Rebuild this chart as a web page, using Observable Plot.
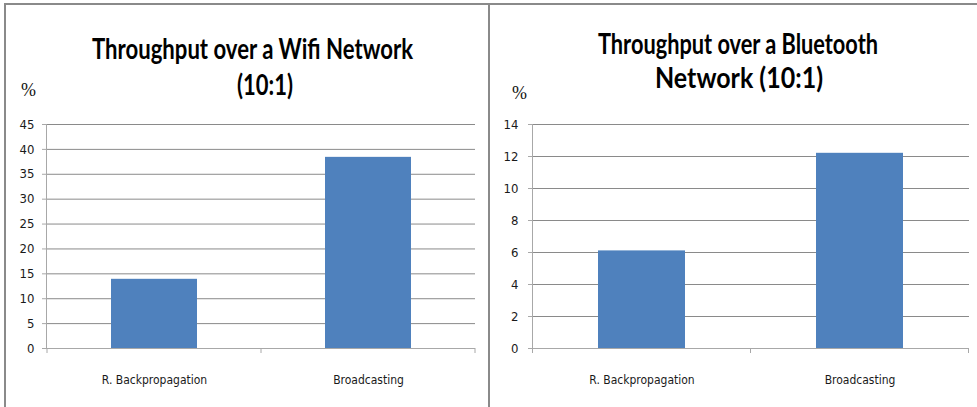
<!DOCTYPE html>
<html>
<head>
<meta charset="utf-8">
<script src="https://cdn.jsdelivr.net/npm/d3@7"></script>
<script src="https://cdn.jsdelivr.net/npm/@observablehq/plot@0.6"></script>
<style>
  body { margin: 0; background: #fff; }
  #page { position: relative; width: 977px; height: 407px; overflow: hidden; background: #fff; }
  #page > svg { position: absolute; top: 0; }
</style>
</head>
<body>
<div id="page"></div>
<script>
// Throughput comparison: two bar panels (Wifi vs Bluetooth), ratio 10:1
const categories = ["R. Backpropagation", "Broadcasting"];
const wifiValues = [13.9, 38.4];
const bluetoothValues = [6.1, 12.2];
const wifiTicks = [0, 5, 10, 15, 20, 25, 30, 35, 40, 45];
const bluetoothTicks = [0, 2, 4, 6, 8, 10, 12, 14];
const wifiTitle = ["Throughput over a Wifi Network", "(10:1)"];
const bluetoothTitle = ["Throughput over a Bluetooth", "Network (10:1)"];
const unitLabel = "%";

const FONT = "'Liberation Sans Narrow', 'DejaVu Sans Condensed', 'Liberation Sans', sans-serif";
const TITLE_FONT = "Lato, 'DejaVu Sans Condensed', sans-serif";
const BAR = "#4F81BD";
const GRID = "#8a8a8a";
const AXIS = "#a8a8a8";
const H = 407;

const page = document.getElementById("page");

function panel({values, ticks, left, width, marginLeft, marginRight, tickPadding}) {
  const rows = categories.map((c, i) => ({category: c, value: values[i]}));
  const fig = Plot.plot({
    width, height: H,
    marginLeft, marginRight, marginTop: 124, marginBottom: 59,
    style: {fontFamily: FONT, fontSize: "13px", color: "#1a1a1a", background: "transparent", overflow: "visible"},
    x: {domain: categories, paddingInner: 0.6, paddingOuter: 0.3, align: 0.5, label: null, axis: null},
    y: {domain: [0, ticks[ticks.length - 1]], label: null, axis: null},
    marks: [
      Plot.gridY(ticks, {stroke: GRID, strokeOpacity: 1}),
      Plot.axisY(ticks, {tickSize: 4, tickPadding, stroke: AXIS, strokeOpacity: 1, label: null}),
      Plot.barY(rows, {x: "category", y: "value", fill: BAR}),
      Plot.frame({anchor: "left", stroke: AXIS, strokeOpacity: 1}),
      Plot.ruleY([0], {stroke: AXIS}),
      Plot.axisX({tickSize: 0, tickPadding: 27, fontSize: 12, label: null})
    ]
  });
  fig.style.left = left + "px";

  // category boundary ticks below the baseline
  const xs = fig.scale("x"), ys = fig.scale("y");
  const half = (xs.step - xs.bandwidth) / 2;
  const edges = categories.map(c => xs.apply(c) - half);
  edges.push(xs.apply(categories[categories.length - 1]) + xs.bandwidth + half);
  const y0 = ys.apply(0);
  d3.select(fig).append("g").attr("stroke", AXIS)
    .selectAll("line").data(edges).join("line")
    .attr("x1", d => d).attr("x2", d => d)
    .attr("y1", y0).attr("y2", y0 + 5);

  page.appendChild(fig);
}

panel({values: wifiValues, ticks: wifiTicks, left: 0, width: 489, marginLeft: 46, marginRight: 14, tickPadding: 8});
panel({values: bluetoothValues, ticks: bluetoothTicks, left: 489, width: 488, marginLeft: 43, marginRight: 8, tickPadding: 10});

// frame lines, titles and unit labels
const overlay = d3.select(page).append("svg")
  .attr("width", 977).attr("height", H)
  .style("left", "0px");

overlay.append("path")
  .attr("d", "M5,407V4H977 M489,4V407")
  .attr("fill", "none").attr("stroke", "#8a8a8a").attr("stroke-width", 2);

const titles = [
  {text: wifiTitle[0], x: 252.5, y: 58.5, len: 321},
  {text: wifiTitle[1], x: 265, y: 94.5, len: 56},
  {text: bluetoothTitle[0], x: 738, y: 53.5, len: 280},
  {text: bluetoothTitle[1], x: 739, y: 88, len: 168}
];
overlay.append("g")
  .attr("font-family", TITLE_FONT).attr("font-weight", "bold").attr("font-size", 29)
  .attr("text-anchor", "middle").attr("fill", "#000")
  .selectAll("text").data(titles).join("text")
  .attr("x", d => d.x).attr("y", d => d.y)
  .attr("textLength", d => d.len).attr("lengthAdjust", "spacingAndGlyphs")
  .text(d => d.text);

overlay.append("g")
  .attr("font-family", "'Liberation Serif', 'DejaVu Serif', serif").attr("font-size", 18)
  .attr("fill", "#111")
  .selectAll("text").data([{x: 21, y: 96}, {x: 512, y: 99}]).join("text")
  .attr("x", d => d.x).attr("y", d => d.y)
  .text(unitLabel);
</script>
</body>
</html>
